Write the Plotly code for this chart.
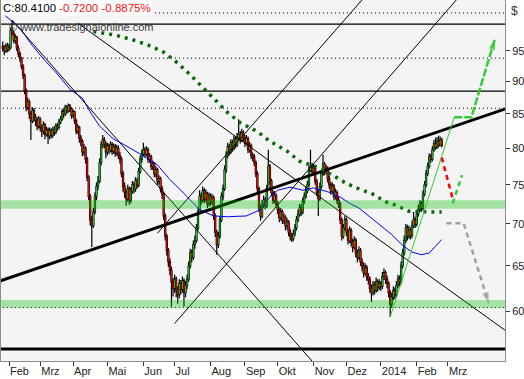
import math
import pandas as pd
import plotly.graph_objects as go

# ---------------- data ----------------
first_date = "2013-01-28"
first_open = 95.8

close = [95.5,95.0,95.8,95.3,95.6,98.5,98.0,96.8,97.3,95.5,
94.5,93.8,92.5,91.0,88.5,86.0,86.8,85.0,84.0,85.5,
84.5,84.0,83.2,84.2,83.0,82.5,83.4,82.0,82.6,81.8,
82.5,81.9,82.7,82.3,83.2,83.0,83.8,84.2,85.3,85.0,
86.0,85.5,86.2,85.8,84.8,85.3,84.0,82.5,83.0,81.5,
81.0,79.5,80.0,78.5,76.0,73.5,70.5,69.8,71.5,73.5,
74.8,75.5,78.0,80.5,81.2,80.6,79.5,80.3,79.8,80.5,
79.6,80.2,79.4,80.0,79.0,78.5,76.5,74.8,74.0,73.2,
74.5,73.0,74.2,75.0,74.5,75.5,75.0,76.8,78.5,79.2,
79.8,79.2,79.8,78.5,78.8,77.5,77.8,76.5,77.0,75.5,
75.8,74.5,73.8,71.0,68.5,66.8,65.5,64.5,63.2,62.5,
63.5,62.3,61.8,63.0,62.4,63.3,62.0,62.8,63.5,65.0,
66.5,66.0,67.5,68.0,69.5,71.5,73.5,73.0,74.2,73.2,
73.8,72.6,73.5,72.8,73.3,71.0,69.0,67.5,68.5,70.5,
73.5,74.5,77.0,79.0,80.2,79.5,80.8,80.0,81.3,80.5,
81.5,82.0,81.2,82.2,81.5,80.8,81.4,79.8,80.4,79.0,
78.8,78.0,76.5,74.5,72.0,71.0,72.5,73.0,72.3,74.5,
77.5,75.5,74.0,73.0,73.6,72.5,71.8,70.8,71.5,70.5,
70.8,69.8,70.2,69.0,68.5,68.2,68.8,69.5,70.5,71.2,
72.0,71.5,72.8,73.5,74.2,75.0,77.0,77.5,76.8,77.2,
75.5,74.0,73.2,74.8,76.5,77.8,76.8,77.2,75.8,75.0,
74.2,74.8,73.5,74.0,73.0,72.5,70.5,68.5,69.5,70.5,
69.0,68.0,69.2,67.8,67.2,68.0,66.5,66.0,66.8,65.5,
65.0,64.2,64.8,63.8,63.5,62.5,62.0,62.8,62.3,63.2,
62.6,63.0,62.7,63.8,64.2,63.5,63.0,62.0,60.8,61.5,
62.2,61.8,62.8,63.5,63.2,65.0,66.5,68.0,69.5,68.5,
69.2,68.6,69.8,70.5,70.0,71.2,71.8,72.5,72.0,73.8,
75.0,76.5,77.5,78.8,78.5,79.8,80.6,80.2,81.0,80.5,
81.13,80.41]

high = [96.6,95.9,96.3,96.4,96.2,99.0,100.3,98.4,97.9,97.6,
95.9,94.9,94.0,92.8,91.3,88.9,87.5,87.2,85.4,86.0,
85.9,85.0,84.5,84.7,84.5,83.4,83.9,83.7,83.1,83.0,
83.0,82.9,83.1,83.2,83.6,83.6,84.3,84.7,85.8,85.7,
86.4,86.3,86.6,86.5,86.0,85.7,85.5,84.3,83.5,83.2,
81.9,81.3,80.6,80.3,78.8,76.3,73.8,71.0,72.0,74.0,
75.3,76.2,78.6,81.0,81.9,81.6,81.0,80.8,80.7,81.0,
80.9,80.7,80.6,80.5,80.4,79.5,78.8,76.9,75.3,74.4,
75.0,74.8,74.7,75.5,75.4,76.0,75.9,77.3,79.0,79.8,
80.8,80.2,80.3,80.1,79.3,79.1,78.3,78.1,77.5,77.3,
76.3,76.1,74.9,74.1,71.3,68.8,67.1,65.9,64.9,63.6,
64.0,63.8,62.7,63.5,63.4,63.8,63.6,63.3,64.0,65.5,
67.0,66.9,68.0,68.6,70.0,72.0,74.3,74.0,74.8,74.6,
74.4,74.1,74.0,73.9,73.8,73.6,71.3,69.3,69.0,71.0,
74.0,75.0,77.6,79.6,80.8,80.6,81.3,81.2,81.8,81.7,
82.2,84.2,82.5,82.8,82.6,81.9,81.9,81.7,80.9,80.7,
79.4,79.2,78.3,76.8,74.8,72.4,73.0,73.6,73.4,75.0,
79.8,77.8,75.8,74.3,74.2,73.9,72.9,72.1,72.0,71.8,
71.3,71.1,70.7,70.5,69.4,68.9,69.3,70.0,71.0,71.8,
72.5,72.4,73.3,74.0,74.8,75.5,77.6,79.8,78.0,77.8,
77.5,75.8,74.4,75.3,77.0,79.1,78.1,77.7,77.5,76.2,
75.4,75.3,75.1,74.5,74.3,73.4,72.8,70.8,70.0,71.0,
70.8,69.4,69.7,69.5,68.2,68.5,68.3,66.9,67.3,67.1,
65.9,65.4,65.3,65.1,64.2,63.8,62.9,63.3,63.2,63.7,
63.5,63.5,63.3,64.3,64.7,64.5,63.9,63.3,62.3,62.0,
62.7,62.6,63.3,64.0,63.9,65.5,67.0,68.6,70.0,69.9,
69.8,69.6,70.4,71.5,70.9,71.7,72.4,73.0,72.9,74.3,
75.5,77.0,78.0,79.3,79.2,80.3,81.2,81.5,81.6,81.8,
81.7,81.5]

low = [94.9,94.3,94.7,94.8,94.9,95.3,97.6,96.3,96.2,95.0,
94.0,93.2,92.0,90.4,88.0,85.4,85.6,84.3,81.2,83.6,
83.8,83.2,82.6,82.8,82.4,81.6,82.0,81.3,81.7,80.6,
81.3,81.4,81.5,81.8,82.0,82.5,82.7,83.5,84.0,84.4,
84.7,85.0,85.2,85.3,84.3,84.4,83.5,82.0,82.1,80.8,
80.3,78.9,79.0,77.9,75.5,73.0,69.8,67.2,69.5,71.2,
73.0,74.3,75.2,77.6,80.0,80.0,78.6,79.0,79.2,79.4,
79.1,79.2,78.8,79.0,78.5,77.9,76.0,74.1,73.3,72.3,
72.8,72.4,72.6,73.8,73.9,74.1,74.5,74.7,76.5,78.0,
78.9,78.7,78.9,78.0,78.0,77.0,77.0,76.0,76.0,75.0,
75.0,74.0,73.2,70.5,68.0,66.2,64.9,63.9,60.5,61.6,
62.0,61.5,60.8,61.4,61.8,62.0,60.5,61.5,62.4,63.2,
64.7,65.4,65.7,67.0,67.7,69.2,71.2,72.4,72.7,72.6,
72.8,72.0,72.2,72.3,72.4,70.5,68.4,66.3,67.1,68.2,
70.2,73.0,74.2,76.6,78.6,79.0,79.2,79.5,79.7,80.0,
80.2,81.2,80.7,80.9,81.0,80.2,80.4,79.3,79.4,78.5,
78.2,77.5,76.0,74.0,71.5,70.4,70.7,72.0,71.8,72.0,
74.2,75.0,73.5,72.5,72.6,72.0,71.2,70.2,70.4,70.0,
70.0,69.2,69.3,68.5,68.0,67.8,67.9,68.5,69.2,70.2,
70.9,71.0,71.2,72.5,73.2,73.9,74.7,76.7,76.3,76.4,
75.0,73.5,71.0,72.9,74.5,76.2,76.3,76.4,75.3,74.5,
73.7,73.9,73.0,73.1,72.5,72.0,70.0,68.0,68.2,69.2,
68.5,67.5,67.7,67.3,66.6,66.9,66.0,65.4,65.7,65.0,
64.4,63.7,63.9,63.3,62.9,62.0,61.0,61.7,61.8,62.0,
62.1,62.3,62.2,62.4,63.4,63.0,62.5,61.5,59.4,60.4,
61.2,61.3,61.5,62.5,62.7,62.9,64.7,66.2,67.7,68.0,
68.2,68.1,68.3,69.5,69.5,69.7,70.9,71.5,71.5,71.7,
73.5,74.7,76.2,77.2,78.0,78.2,79.5,79.8,79.9,80.1,
80.3,80.1]

# blue moving average (read at points)
ma_dates = ["2013-01-28","2013-02-12","2013-02-22","2013-03-05","2013-03-18","2013-03-28",
            "2013-04-09","2013-04-17","2013-04-24","2013-05-07","2013-05-15","2013-05-30",
            "2013-06-14","2013-06-26","2013-07-05","2013-07-15","2013-07-23","2013-08-05",
            "2013-08-16","2013-09-03","2013-09-16","2013-09-24","2013-10-01","2013-10-11",
            "2013-10-23","2013-11-01","2013-11-14","2013-11-26","2013-12-04","2013-12-12",
            "2013-12-26","2014-01-10","2014-01-21","2014-01-29","2014-02-06","2014-02-13",
            "2014-02-19","2014-02-25"]
ma_vals = [101.5,98.9,95.9,93.7,91.2,88.8,87.4,84.9,83.2,81.3,80.6,79.2,77.7,75.7,74.3,73.0,
           71.8,71.0,70.9,71.0,71.8,73.4,74.3,74.7,74.3,74.6,74.1,73.4,72.6,72.0,70.4,68.7,
           67.4,66.6,66.3,66.5,67.3,68.1]

# dark green dotted long average (visible from late April on)
slow_dates = ["2013-04-18","2013-05-08","2013-05-23","2013-06-06",
              "2013-06-20","2013-07-03","2013-07-15","2013-07-25","2013-08-06","2013-08-16",
              "2013-08-28","2013-09-12","2013-09-24","2013-10-09","2013-10-21","2013-11-05",
              "2013-11-19","2013-12-02","2013-12-16","2013-12-24","2014-01-06","2014-01-14",
              "2014-01-27","2014-02-05","2014-02-13","2014-02-25"]
slow_vals = [98.3,97.7,96.9,96.0,94.8,93.0,91.1,89.1,87.1,85.2,83.7,82.4,81.0,79.6,
             78.2,77.4,76.3,75.2,74.3,73.9,72.8,72.4,71.6,71.5,71.5,71.5]

# trend lines (date, price)
thick_trend_dates = ["2013-01-23", "2014-04-28"]; thick_trend_vals = [63.22, 86.03]
down1_dates = ["2013-02-05", "2013-11-04"];       down1_vals = [100.3, 54.61]
down2_dates = ["2013-04-04", "2014-04-28"];       down2_vals = [99.8, 57.63]
up1_dates = ["2013-07-01", "2014-03-17"];         up1_vals = [58.72, 105.5]
up2_dates = ["2013-06-14", "2013-12-23"];         up2_vals = [68.87, 105.6]
green_trend_dates = ["2014-01-09", "2014-03-07"]; green_trend_vals = [59.4, 84.5]

# projections
bull_dates = ["2014-03-07", "2014-03-24", "2014-04-14"]; bull_vals = [84.5, 84.5, 97.0]
red_dates = ["2014-02-25", "2014-03-06"];   red_vals = [78.7, 73.2]
lgreen_dates = ["2014-03-06", "2014-03-14"]; lgreen_vals = [72.6, 76.3]
bear_dates = ["2014-02-28", "2014-03-17", "2014-04-08"]; bear_vals = [70.1, 70.1, 60.9]

# horizontal levels
solid_levels = [99.6, 88.5]
dotted_levels = [101.6, 93.8, 85.86, 60.4]
thick_levels = [56.14]
zones = [(71.9, 73.0), (60.38, 61.21)]

month_starts = ["2013-02","2013-03","2013-04","2013-05","2013-06","2013-07","2013-08",
                "2013-09","2013-10","2013-11","2013-12","2014-01","2014-02","2014-03"]
month_labels = ["Feb","Mrz","Apr","Mai","Jun","Jul","Aug","Sep","Okt","Nov","Dez","2014","Feb","Mrz"]
y_ticks = [60, 65, 70, 75, 80, 85, 90, 95]

# ---------------- trading-day scale ----------------
calendar = pd.bdate_range("2013-01-21", "2014-05-09")
pos = {d: k for k, d in enumerate(calendar)}
def tx(ds):
    return [pos[pd.Timestamp(d)] for d in ds]

dates = pd.bdate_range(first_date, periods=len(close))
xc = [pos[d] for d in dates]
opens = [first_open] + close[:-1]
tickvals = [pos[calendar[calendar >= pd.Timestamp(m + "-01")][0]] for m in month_starts]
x_lo, x_hi = 0, len(calendar) - 1

fig = go.Figure()

def line(xs, ys, color, width, dash="solid"):
    fig.add_trace(go.Scatter(x=xs, y=ys, mode="lines", line=dict(color=color, width=width, dash=dash),
                             hoverinfo="skip", showlegend=False))

for lv in solid_levels:
    line([x_lo, x_hi], [lv, lv], "black", 1.3)
for lv in dotted_levels:
    line([x_lo, x_hi], [lv, lv], "black", 1, "1px,3px")
for lv in thick_levels:
    line([x_lo, x_hi], [lv, lv], "black", 3)

# black wicks + outlines, then coloured bodies on top
fig.add_trace(go.Candlestick(
    x=xc, open=opens, high=high, low=low, close=close,
    increasing=dict(line=dict(color="black", width=1.2), fillcolor="black"),
    decreasing=dict(line=dict(color="black", width=1.2), fillcolor="black"),
    whiskerwidth=0, showlegend=False))
fig.add_trace(go.Candlestick(
    x=xc, open=opens, high=high, low=low, close=close,
    increasing=dict(line=dict(color="rgba(0,0,0,0)", width=0), fillcolor="#1fc21f"),
    decreasing=dict(line=dict(color="rgba(0,0,0,0)", width=0), fillcolor="#ff0000"),
    whiskerwidth=0, showlegend=False))

line(tx(ma_dates), ma_vals, "#0000ff", 1)
line(tx(down1_dates), down1_vals, "black", 1)
line(tx(down2_dates), down2_vals, "black", 1)
line(tx(up1_dates), up1_vals, "black", 1)
line(tx(up2_dates), up2_vals, "black", 1)
line(tx(thick_trend_dates), thick_trend_vals, "black", 3)
line(tx(slow_dates), slow_vals, "#0b650b", 3.5, "3px,5px")

for lo, hi in zones:
    fig.add_trace(go.Scatter(x=[x_lo, x_hi, x_hi, x_lo, x_lo], y=[lo, lo, hi, hi, lo],
                             mode="lines", line=dict(width=0), fill="toself",
                             fillcolor="rgba(0,190,0,0.33)", hoverinfo="skip", showlegend=False))

line(tx(green_trend_dates), green_trend_vals, "#33cc33", 1)
line(tx(red_dates), red_vals, "#ff0000", 2.5, "5px,4px")
line(tx(lgreen_dates), lgreen_vals, "#33cc33", 2.5, "5px,4px")

def arrow(ds, vs, color, dash):
    fig.add_trace(go.Scatter(
        x=tx(ds), y=vs, mode="lines+markers",
        line=dict(color=color, width=2.5, dash=dash),
        marker=dict(symbol="arrow", size=[0] * (len(vs) - 1) + [11], angleref="previous",
                    color=color, line=dict(width=0)),
        hoverinfo="skip", showlegend=False))

arrow(bull_dates, bull_vals, "#33cc33", "8px,2px")
arrow(bear_dates, bear_vals, "#a0a0a0", "5px,4px")

fig.add_annotation(xref="paper", yref="paper", x=0, y=1, xanchor="left", yanchor="top",
                   text="C:80.4100 <span style='color:#ff1010'>-0.7200 -0.8875%</span>",
                   showarrow=False, bgcolor="white", borderpad=1,
                   font=dict(family="Liberation Sans", size=11.5, color="black"))
fig.add_annotation(xref="paper", yref="paper", x=0, y=1, xanchor="left", yanchor="top",
                   xshift=6, yshift=-19, text="© www.tradesignalonline.com", showarrow=False,
                   font=dict(family="Liberation Sans", size=11, color="#383838"))
fig.add_annotation(xref="paper", yref="paper", x=1, y=1, xanchor="left", yanchor="top",
                   xshift=4, yshift=-2, text="$", showarrow=False,
                   font=dict(family="Liberation Sans", size=12, color="#333"))

fig.update_layout(
    width=524, height=379, margin=dict(l=1, r=19, t=0, b=18),
    paper_bgcolor="white", plot_bgcolor="#f4f4f4", showlegend=False,
    boxgap=0.0, boxmode="overlay",
    font=dict(family="Liberation Sans", size=11, color="#222"),
    xaxis=dict(range=[3.88, 326.5], tickvals=tickvals, ticktext=month_labels,
               ticks="outside", ticklen=4, tickcolor="#333", ticklabelposition="outside right",
               showgrid=False, zeroline=False, showline=True, mirror=True,
               linecolor="#8c8c8c", linewidth=1, rangeslider=dict(visible=False)),
    yaxis=dict(type="log", side="right", range=[math.log10(54.96), math.log10(103.94)],
               tickvals=y_ticks, ticktext=[str(v) for v in y_ticks],
               ticks="outside", ticklen=4, tickcolor="#333",
               showgrid=False, zeroline=False, showline=True, mirror=True,
               linecolor="#8c8c8c", linewidth=1),
)

fig.write_html("out.html")
